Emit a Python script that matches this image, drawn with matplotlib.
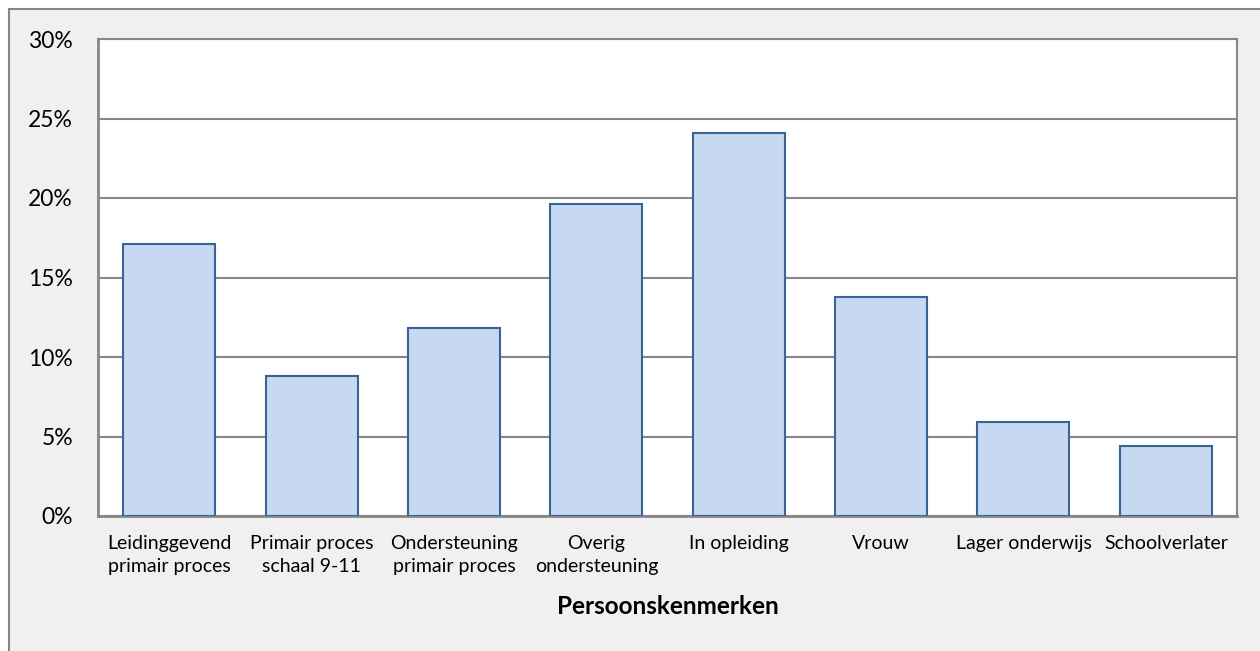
import matplotlib
matplotlib.use("Agg")
import matplotlib.pyplot as plt
from matplotlib.patches import Rectangle
from matplotlib.ticker import FuncFormatter, MultipleLocator

categories = ["Leidinggevend\nprimair proces", "Primair proces\nschaal 9-11",
              "Ondersteuning\nprimair proces", "Overig\nondersteuning",
              "In opleiding", "Vrouw", "Lager onderwijs", "Schoolverlater"]
values = [17.1, 8.8, 11.8, 19.6, 24.1, 13.8, 5.9, 4.4]
xlabel = "Persoonskenmerken"

plt.rcParams['font.family'] = ['Lato', 'DejaVu Sans']

W, H = 1260, 651
fig = plt.figure(figsize=(W / 100, H / 100), dpi=100)
fig.patch.set_facecolor("white")
bg = Rectangle((9 / W, -0.1), 1.2, 1 - 9 / H + 0.1, transform=fig.transFigure,
               facecolor="#f0f0f0", edgecolor="#868686", linewidth=1.5, zorder=-10)
fig.patches.append(bg)

ax = fig.add_axes([98 / W, 1 - 516 / H, (1237 - 98) / W, (516 - 39) / H])
ax.set_zorder(1)
ax.set_facecolor("white")
x = range(len(categories))
ax.bar(x, values, width=0.646, color="#c6d9f1", edgecolor="#3b6496", linewidth=1.5, zorder=3)
ax.set_xlim(-0.5, len(categories) - 0.5)
ax.set_ylim(0, 30)
ax.yaxis.set_major_locator(MultipleLocator(5))
ax.yaxis.set_major_formatter(FuncFormatter(lambda v, p: f"{v:.0f}%"))
ax.grid(axis="y", color="#868686", linewidth=1.5, zorder=0)
ax.set_axisbelow(True)
for s in ["top", "right"]:
    ax.spines[s].set_visible(True)
    ax.spines[s].set_color("#868686")
    ax.spines[s].set_linewidth(1.5)
for s in ["left", "bottom"]:
    ax.spines[s].set_color("#868686")
    ax.spines[s].set_linewidth(2)
ax.set_xticks(list(x))
ax.set_xticklabels(categories, fontsize=14, linespacing=1.4)
ax.tick_params(axis="x", length=0, pad=14)
ax.tick_params(axis="y", length=0, pad=18, labelsize=16.5)
ax.set_xlabel(xlabel, fontsize=17.5, fontweight="bold", va="center")
ax.xaxis.set_label_coords(0.5, (516 - 607) / 477)

fig.savefig("out.png", dpi=100)
